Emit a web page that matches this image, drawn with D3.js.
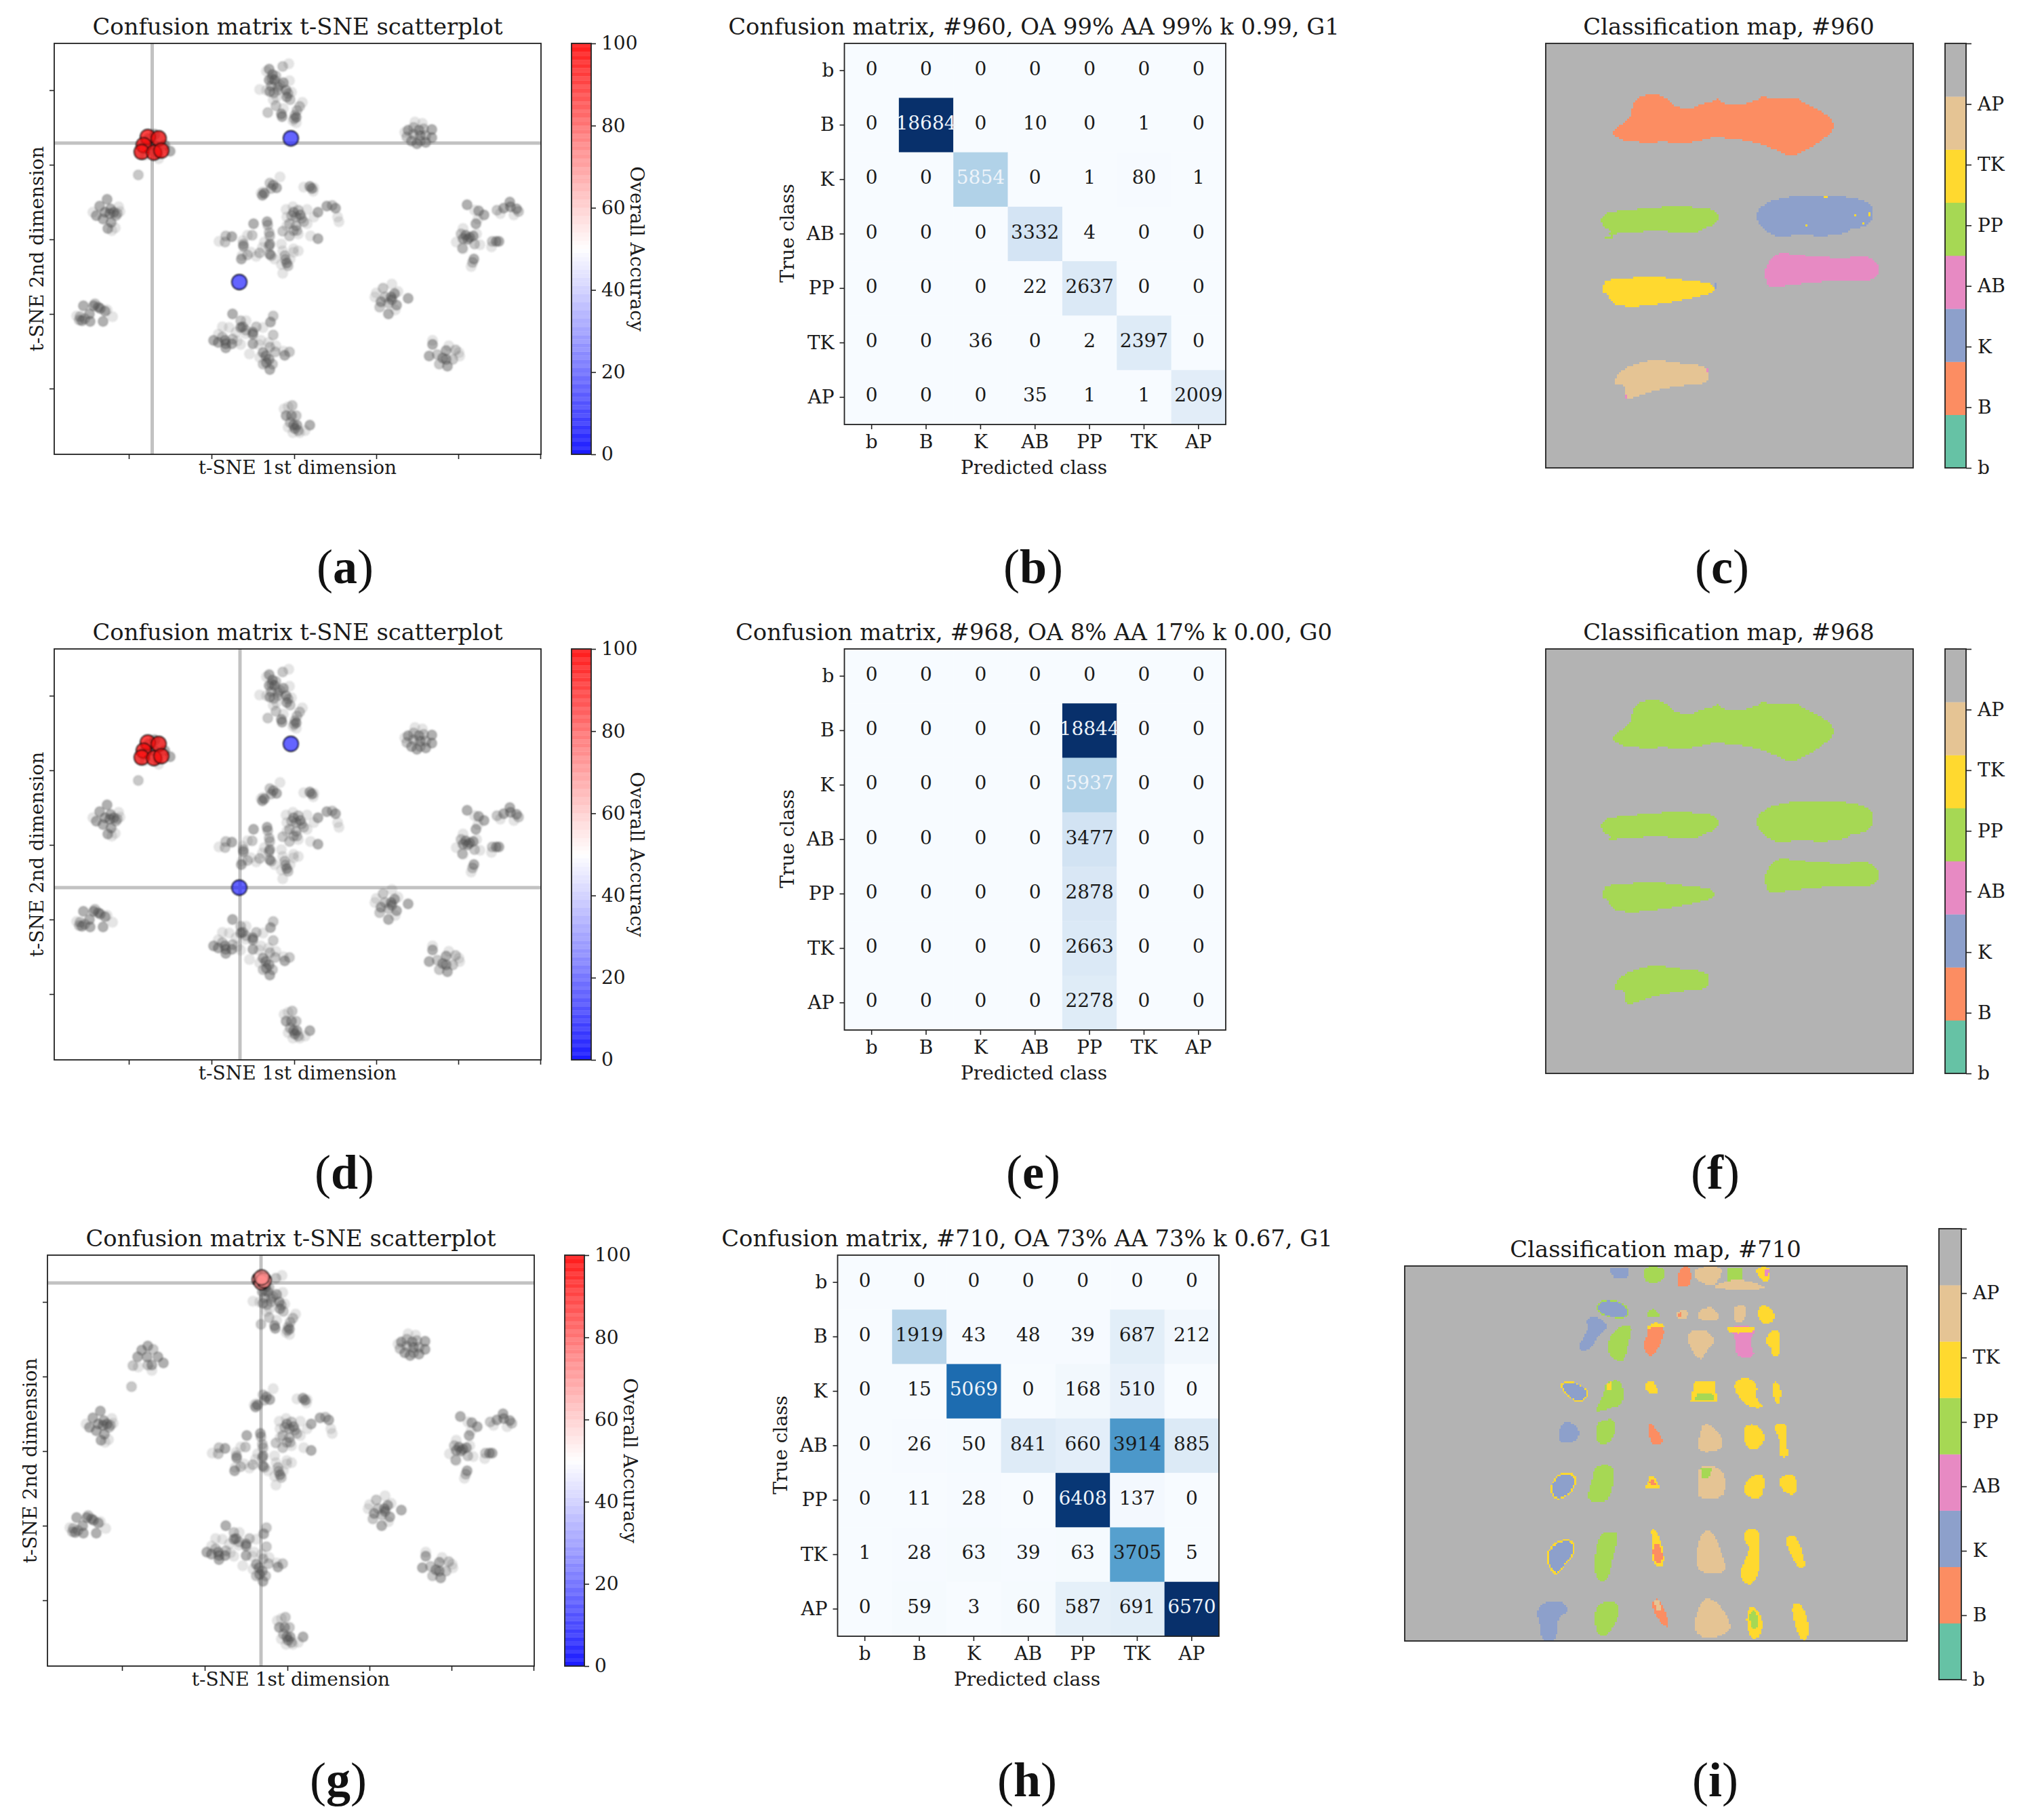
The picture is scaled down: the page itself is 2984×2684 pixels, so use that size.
<!DOCTYPE html>
<html><head><meta charset="utf-8">
<script src="https://d3js.org/d3.v7.min.js"></script>
<style>
html,body{margin:0;padding:0;background:#fff}
svg{display:block}
text{font-family:"DejaVu Serif",serif;fill:#1a1a1a}
</style></head><body>
<div id="chart"></div>
<script>
// ---------- data ----------
const classNames = ["b","B","K","AB","PP","TK","AP"];
const classColors = ["#66c2a5","#fc8d62","#8da0cb","#e78ac3","#a6d854","#ffd92f","#e5c494","#b3b3b3"];

const matrix960 = [
 [0,0,0,0,0,0,0],
 [0,18684,0,10,0,1,0],
 [0,0,5854,0,1,80,1],
 [0,0,0,3332,4,0,0],
 [0,0,0,22,2637,0,0],
 [0,0,36,0,2,2397,0],
 [0,0,0,35,1,1,2009]];
const matrix968 = [
 [0,0,0,0,0,0,0],
 [0,0,0,0,18844,0,0],
 [0,0,0,0,5937,0,0],
 [0,0,0,0,3477,0,0],
 [0,0,0,0,2878,0,0],
 [0,0,0,0,2663,0,0],
 [0,0,0,0,2278,0,0]];
const matrix710 = [
 [0,0,0,0,0,0,0],
 [0,1919,43,48,39,687,212],
 [0,15,5069,0,168,510,0],
 [0,26,50,841,660,3914,885],
 [0,11,28,0,6408,137,0],
 [1,28,63,39,63,3705,5],
 [0,59,3,60,587,691,6570]];

// t-SNE readings: [dim1, dim2, alpha level], dim2 grows downward
const tsneTop = [[397,102,3],[393,105,1],[402,110,3],[407,112,2],[397,118,3],[405,118,3],[418,122,3],[427,119,1],[400,127,2],[410,128,2],[383,132,1],[393,133,1],[398,135,3],[410,133,2],[422,133,3],[430,136,1],[403,147,1],[408,143,1],[423,143,3],[428,147,2],[407,156,2],[418,160,1],[395,166,2],[415,168,3],[416,172,3],[417,98,2],[426,94,1],[446,151,1],[442,157,2],[438,163,2],[435,170,2],[437,173,3],[432,178,1],[437,181,1],[434,175,2],[401,116,2],[413,125,2],[404,137,2],[425,138,2]];
const tsneLeft = [[158,294,3],[147,304,3],[137,313,1],[142,318,3],[152,323,3],[155,313,3],[163,308,3],[168,313,3],[162,315,3],[175,305,1],[173,315,2],[177,312,1],[164,328,3],[159,337,3],[170,336,1],[165,340,1],[171,318,2],
 [123,451,3],[138,451,3],[145,453,3],[148,455,3],[155,459,3],[158,457,1],[132,463,3],[113,466,1],[118,467,2],[166,467,1],[121,473,3],[133,474,3],[152,474,3],[125,470,2],[117,472,2],[140,448,2]];
const tsneCluster = [[228,198,3],[219,204,3],[236,203,2],[213,214,3],[227,214,3],[243,214,3],[251,223,3],[234,226,3],[206,227,2],[214,229,1],[228,226,2],[234,234,1],[204,258,2]];
const tsneCentre = [[413,261,1],[398,270,2],[403,273,3],[408,277,3],[400,278,2],[388,283,1],[387,288,3],[390,285,3],[385,285,1],[448,276,1],[457,275,3],[460,278,3],[463,277,1],[462,282,1],
 [422,309,1],[432,305,1],[433,313,3],[440,310,2],[443,317,3],[437,320,2],[423,320,1],[427,330,2],[448,327,2],[453,330,1],[453,309,1],[463,320,1],[469,313,3],[482,304,3],[495,307,3],[490,303,2],[498,320,1],[500,327,1],[458,348,1],[469,352,3],[433,340,2],[417,341,2],[427,348,2],[440,345,1],[423,333,1],[437,333,2],
 [374,330,3],[394,327,3],[395,332,2],[397,343,2],[398,348,2],[372,347,2],[365,347,1],[333,348,2],[342,349,3],[323,356,1],[332,357,2],[358,355,1],[359,363,3],[359,360,2],[398,360,3],[397,363,2],[390,357,1],[387,365,1],[383,373,2],[378,378,1],[370,372,1],[365,376,2],[356,382,3],[398,375,3],[400,377,2],[405,382,1],[415,360,1],[417,370,1],[420,377,2],[423,388,3],[425,392,2],[415,390,1],[428,382,1],[433,367,1],[440,370,1],[433,372,1],[417,403,1],[357,377,1],[430,318,2],[438,340,2],[445,322,2],[421,383,2]];
const tsneBottom = [[343,463,3],[328,482,1],[338,483,1],[355,473,2],[363,473,1],[355,483,3],[358,482,3],[363,487,2],[378,482,2],[388,483,1],[373,490,3],[373,493,3],[362,492,1],[348,490,1],[322,493,1],[315,502,3],[322,505,3],[332,502,3],[333,507,3],[342,507,3],[333,513,3],[350,503,1],[355,508,1],[328,497,2],[343,500,2],[403,466,2],[399,475,3],[403,494,2],[373,507,3],[385,502,1],[382,508,1],[396,505,1],[407,510,1],[398,512,2],[368,522,1],[406,519,2],[418,518,1],[420,524,3],[427,519,2],[388,520,3],[392,525,3],[397,530,3],[388,537,2],[393,535,3],[398,545,3],[383,527,1],[402,537,2],
 [431,598,2],[419,603,1],[425,600,1],[422,613,3],[430,613,3],[437,613,2],[433,627,3],[438,627,3],[428,623,2],[457,627,3],[435,632,3],[425,630,1],[432,638,1],[442,638,1],[450,635,1],[440,635,2]];
const tsneRight = [[612,180,1],[623,182,1],[602,192,3],[597,195,1],[610,188,2],[618,192,3],[625,190,2],[637,191,3],[637,203,3],[600,202,2],[610,198,2],[620,200,3],[628,200,2],[607,208,3],[615,212,3],[628,210,3],[620,208,2],
 [689,302,3],[700,310,1],[706,311,3],[714,317,3],[702,330,3],[705,323,1],[733,310,2],[743,307,3],[752,298,3],[753,305,3],[762,308,3],[765,312,2],[758,317,1],[738,315,1],[683,337,1],[680,345,2],[687,347,3],[693,350,3],[698,348,3],[703,345,1],[690,353,3],[683,352,3],[673,357,1],[682,366,2],[683,367,1],[700,360,2],[708,361,1],[726,356,2],[732,356,3],[736,356,3],[725,364,1],[699,382,3],[697,387,2],[695,393,1],
 [578,419,1],[565,425,2],[555,432,1],[587,430,1],[582,433,3],[553,438,1],[577,438,3],[578,442,3],[602,440,3],[562,445,3],[560,453,2],[585,450,3],[583,457,1],[573,463,3],[573,447,2],[568,438,2],
 [638,502,1],[638,508,3],[633,525,3],[645,523,2],[648,537,2],[658,517,3],[662,510,1],[672,516,2],[658,530,3],[668,530,2],[678,525,1],[660,540,3],[653,528,3],[677,520,1]];

// highlighted solutions: [dim1, dim2, overall accuracy]
const hitsHighRow = [[218,202,99],[234,204,99],[212,214,99],[209,224,99],[227,225,99],[238,222,99],[429,204,8],[353,416,8]];
const hitsLowRow = [[393,100,73],[396,104,73],[399,101,73],[396,97,73]];

const xTicksTsne = [190,312,434,555,676,797];
const yTicksTsne = [133,243,353,463,573];
const accTicks = [0,20,40,60,80,100];

// classification map outlines, read in image units
const regions960 = [
 {c:1,p:[[357,340],[380,325],[400,310],[415,300],[420,275],[432,255],[455,245],[480,241],[505,247],[525,258],[550,278],[600,278],[625,265],[660,260],[670,252],[685,268],[720,272],[760,265],[790,255],[800,245],[820,255],[860,252],[895,250],[920,265],[955,280],[985,295],[1000,308],[1006,322],[1000,338],[975,355],[945,375],[905,392],[875,401],[855,390],[810,373],[760,360],[700,355],[665,350],[620,358],[570,368],[520,362],[460,365],[400,360],[375,352]]},
 {c:4,p:[[327,550],[380,540],[460,535],[525,530],[600,532],[650,537],[668,555],[660,572],[620,588],[595,600],[575,595],[540,598],[500,590],[460,592],[400,598],[375,598],[345,600],[355,590],[327,578]]},
 {c:2,p:[[785,545],[800,530],[830,515],[880,505],[960,502],[1050,505],[1100,515],[1125,535],[1123,565],[1100,582],[1060,585],[1040,600],[970,605],[900,600],[855,610],[815,592],[790,575]]},
 {c:3,p:[[810,695],[830,660],[860,648],[900,655],[960,660],[1040,665],[1075,660],[1120,662],[1145,690],[1130,715],[1100,722],[1040,718],[960,725],[880,732],[825,740],[812,720]]},
 {c:5,p:[[330,730],[350,718],[410,715],[480,712],[520,715],[580,722],[640,727],[655,740],[645,755],[590,765],[520,778],[430,788],[370,785],[350,770],[345,755],[328,752]]},
 {c:6,p:[[360,978],[395,945],[450,930],[490,925],[530,932],[630,940],[638,960],[635,985],[560,990],[480,1002],[440,1015],[400,1027],[395,1005],[395,990],[370,988]]},
 {c:5,p:[[925,573],[936,573],[936,581],[925,581]]},
 {c:5,p:[[979,503],[991,503],[991,510],[979,510]]},
 {c:5,p:[[1113,543],[1120,543],[1120,554],[1113,554]]},
 {c:5,p:[[1093,572],[1100,572],[1100,578],[1093,578]]},
 {c:5,p:[[1070,549],[1077,549],[1077,556],[1070,556]]},
 {c:4,p:[[335,608],[355,603],[357,610],[337,613]]},
 {c:2,p:[[655,730],[665,728],[664,740],[655,745]]},
 {c:3,p:[[634,948],[640,948],[640,958],[634,958]]},
 {c:3,p:[[393,1012],[399,1012],[399,1026],[393,1026]]}
];
const regions968 = [0,1,2,3,4,5].map(i=>({c:4,p:regions960[i].p}));

const regions710 = [
 {c:2,p:[[547,195],[590,195],[592,215],[580,228],[560,228],[550,210]]},
 {c:4,p:[[630,195],[675,195],[680,225],[665,240],[635,240]]},
 {c:1,p:[[722,195],[743,195],[745,250],[715,255],[714,235]]},
 {c:6,p:[[760,205],[775,195],[820,195],[815,225],[800,250],[775,240],[760,228]]},
 {c:4,p:[[838,195],[875,195],[875,235],[838,238]]},
 {c:6,p:[[805,262],[825,245],[860,235],[900,243],[932,265]]},
 {c:5,p:[[915,195],[942,195],[940,235],[925,235],[910,210]]},
 {c:3,p:[[930,200],[940,200],[938,225],[930,225]]},
 {c:2,r:4,p:[[520,320],[535,303],[565,308],[585,325],[583,350],[550,350],[525,338]]},
 {c:4,p:[[638,340],[652,327],[665,340],[665,353],[640,353]]},
 {c:6,p:[[708,345],[725,330],[738,335],[735,355],[720,360]]},
 {c:1,p:[[712,342],[722,338],[722,352],[714,355]]},
 {c:6,p:[[765,335],[795,322],[810,340],[812,363],[770,363]]},
 {c:6,p:[[853,320],[880,318],[882,350],[870,368],[855,365]]},
 {c:5,p:[[915,325],[930,317],[950,335],[950,370],[917,370]]},
 {c:2,p:[[487,365],[510,355],[540,385],[510,420],[500,450],[475,455],[472,440],[495,395]]},
 {c:4,p:[[545,425],[570,390],[598,385],[590,430],[580,490],[560,485],[545,465]]},
 {c:5,p:[[640,385],[655,372],[676,376],[676,392],[640,392]]},
 {c:1,p:[[640,392],[676,388],[675,420],[655,470],[640,470],[630,440],[640,420]]},
 {c:6,p:[[738,415],[760,398],[785,402],[803,435],[780,460],[775,485],[755,470]]},
 {c:3,p:[[840,390],[895,385],[900,410],[888,435],[903,470],[880,478],[860,470],[860,420]]},
 {c:5,p:[[840,385],[900,385],[900,400],[860,405],[840,398]]},
 {c:5,p:[[935,420],[950,398],[968,410],[962,440],[968,472],[945,472],[947,448],[935,440]]},
 {c:2,r:5,p:[[432,570],[455,565],[480,585],[487,600],[472,620],[455,615],[432,585]]},
 {c:4,p:[[510,655],[535,600],[535,570],[572,558],[578,630],[545,642]]},
 {c:5,p:[[538,565],[552,560],[552,585],[538,590]]},
 {c:5,p:[[635,570],[650,555],[665,595],[650,600],[635,585]]},
 {c:5,p:[[755,562],[805,560],[812,628],[745,625]]},
 {c:4,p:[[760,600],[800,600],[805,622],[755,622]]},
 {c:5,p:[[858,565],[880,553],[908,565],[905,620],[920,630],[915,640],[885,635],[860,595]]},
 {c:5,p:[[948,575],[958,562],[970,590],[965,628],[955,625]]},
 {c:2,p:[[425,700],[450,693],[468,720],[462,745],[440,755],[420,750]]},
 {c:4,p:[[520,690],[560,685],[550,750],[520,760],[512,725]]},
 {c:1,p:[[642,700],[650,700],[675,745],[670,760],[648,760]]},
 {c:6,p:[[778,705],[795,703],[823,745],[815,780],[765,782],[772,725]]},
 {c:5,p:[[880,705],[910,703],[930,740],[905,780],[880,760]]},
 {c:5,p:[[950,705],[985,700],[982,760],[987,795],[965,795],[968,745]]},
 {c:2,r:5,p:[[402,900],[420,865],[445,860],[457,880],[445,915],[415,935]]},
 {c:4,p:[[510,840],[540,835],[553,850],[545,935],[510,943],[492,930],[505,880]]},
 {c:5,p:[[636,898],[650,855],[665,895],[665,903],[637,903]]},
 {c:1,p:[[644,885],[652,872],[660,890],[646,892]]},
 {c:6,p:[[767,840],[800,835],[828,860],[825,930],[770,932],[767,900]]},
 {c:4,p:[[770,840],[800,838],[790,870],[775,870]]},
 {c:5,p:[[880,900],[895,870],[920,860],[927,885],[918,935],[885,925]]},
 {c:5,p:[[968,870],[1000,857],[1010,910],[990,923],[968,895]]},
 {c:2,r:5,p:[[392,1125],[410,1085],[445,1075],[453,1110],[430,1145],[412,1175]]},
 {c:4,p:[[510,1130],[522,1055],[555,1050],[562,1065],[550,1130],[540,1190],[515,1190]]},
 {c:5,p:[[648,1040],[665,1050],[680,1130],[668,1155],[650,1130],[655,1080]]},
 {c:1,p:[[655,1085],[668,1085],[676,1130],[664,1145],[654,1125]]},
 {c:6,p:[[760,1135],[775,1050],[800,1050],[815,1100],[832,1165],[790,1172],[770,1160]]},
 {c:5,p:[[880,1050],[912,1040],[915,1100],[915,1160],[900,1200],[880,1200],[870,1165],[895,1100],[880,1080]]},
 {c:5,p:[[982,1065],[1005,1058],[1022,1110],[1027,1155],[1010,1150],[990,1100]]},
 {c:2,p:[[367,1305],[385,1273],[425,1273],[440,1300],[412,1320],[412,1390],[380,1390],[375,1330]]},
 {c:4,p:[[510,1290],[545,1268],[568,1290],[555,1340],[535,1375],[515,1365]]},
 {c:1,p:[[655,1265],[670,1265],[692,1335],[680,1345],[655,1300]]},
 {c:6,p:[[655,1265],[668,1265],[672,1295],[660,1295]]},
 {c:6,p:[[760,1330],[775,1270],[800,1265],[830,1310],[842,1358],[790,1382],[760,1360]]},
 {c:5,p:[[885,1300],[905,1285],[925,1340],[910,1385],[890,1370]]},
 {c:4,p:[[893,1305],[905,1298],[915,1335],[903,1355],[895,1340]]},
 {c:5,p:[[995,1285],[1020,1278],[1037,1340],[1033,1385],[1015,1380]]}
];

// ---------- layout ----------
const W = 2984, H = 2684;
const svg = d3.select("#chart").append("svg").attr("width",W).attr("height",H).attr("viewBox",[0,0,W,H]);
const defs = svg.append("defs");
defs.append("filter").attr("id","soft").attr("x","-5%").attr("y","-5%").attr("width","110%").attr("height","110%")
  .append("feGaussianBlur").attr("stdDeviation",1.1);

const FS_TITLE=33.8, FS=28;
const bwr = d3.scaleLinear().domain([0,50,100]).range(["#0000ff","#ffffff","#ff0000"]);
const greyPoints = [].concat(tsneCluster,tsneTop,tsneLeft,tsneCentre,tsneBottom,tsneRight);
const levelAlpha = {1:0.15,2:0.32,3:0.46};

function label(g,txt,x,y,size,o={}){
  const t=g.append("text").text(txt).attr("font-size",size).attr("text-anchor",o.anchor||"middle").attr("dominant-baseline","central");
  if(o.rot!==undefined) t.attr("transform",`translate(${x},${y}) rotate(${o.rot})`);
  else t.attr("x",x).attr("y",y);
  return t;
}
function styleAxis(a){
  a.select(".domain").remove();
  a.selectAll("line").attr("stroke","#222").attr("stroke-width",1.6);
  a.selectAll("text").attr("font-size",FS).attr("font-family","DejaVu Serif").style("fill","#1a1a1a");
}
function frame(g,x,y,w,h){
  g.append("rect").attr("x",x).attr("y",y).attr("width",w).attr("height",h)
   .attr("fill","none").attr("stroke","#222").attr("stroke-width",1.8);
}

function scatterPanel(dx,dy,hits,cross){
  const g=svg.append("g");
  const x=d3.scaleLinear().domain([80,798]).range([80+dx,798+dx]);
  const y=d3.scaleLinear().domain([64,670]).range([64+dy,670+dy]);
  const [L,R]=x.range(),[T,B]=y.range();
  label(g,"Confusion matrix t-SNE scatterplot",439+dx,39+dy,FS_TITLE);
  g.append("line").attr("x1",x(cross[0])).attr("x2",x(cross[0])).attr("y1",T).attr("y2",B).attr("stroke","#c2c2c2").attr("stroke-width",5);
  g.append("line").attr("x1",L).attr("x2",R).attr("y1",y(cross[1])).attr("y2",y(cross[1])).attr("stroke","#c2c2c2").attr("stroke-width",5);
  const pts=g.append("g").attr("filter","url(#soft)");
  pts.selectAll("circle.p").data(greyPoints).join("circle").attr("class","p")
    .attr("cx",d=>x(d[0])).attr("cy",d=>y(d[1])).attr("r",7.3)
    .attr("fill","#505050").attr("fill-opacity",d=>levelAlpha[d[2]])
    .attr("stroke","#333").attr("stroke-opacity",d=>levelAlpha[d[2]]*0.6).attr("stroke-width",1.2);
  pts.selectAll("circle.h").data(hits).join("circle").attr("class","h")
    .attr("cx",d=>x(d[0])).attr("cy",d=>y(d[1])).attr("r",11)
    .attr("fill",d=>bwr(d[2])).attr("fill-opacity",0.72)
    .attr("stroke","#111").attr("stroke-width",1.8);
  frame(g,L,T,R-L,B-T);
  const ax=g.append("g").attr("transform",`translate(0,${B})`).call(d3.axisBottom(x).tickValues(xTicksTsne).tickFormat("").tickSize(7));
  styleAxis(ax);
  const ay=g.append("g").attr("transform",`translate(${L},0)`).call(d3.axisLeft(y).tickValues(yTicksTsne).tickFormat("").tickSize(7));
  styleAxis(ay);
  label(g,"t-SNE 1st dimension",439+dx,689+dy,FS);
  label(g,"t-SNE 2nd dimension",54+dx,367+dy,FS,{rot:-90});
  // colour bar
  const c=d3.scaleLinear().domain([0,100]).range([670+dy,64+dy]);
  const cx0=843+dx, cw=29;
  const steps=d3.range(0,100,1);
  g.append("g").selectAll("rect").data(steps).join("rect")
    .attr("x",cx0).attr("width",cw).attr("y",d=>c(d+1)).attr("height",d=>c(d)-c(d+1)+0.2)
    .attr("fill",d=>bwr(d+0.5)).attr("fill-opacity",d=>d%2?0.82:0.9);
  frame(g,cx0,64+dy,cw,606);
  const ac=g.append("g").attr("transform",`translate(${cx0+cw},0)`).call(d3.axisRight(c).tickValues(accTicks).tickSize(7).tickPadding(8));
  styleAxis(ac);
  label(g,"Overall Accuracy",939+dx,367+dy,FS,{rot:90});
}

function matrixPanel(dx,dy,m,title){
  const g=svg.append("g");
  const x=d3.scaleBand().domain(classNames).range([1245.5+dx,1808+dx]);
  const y=d3.scaleBand().domain(classNames).range([64+dy,626+dy]);
  const mx=d3.max(m.flat());
  const col=d3.scaleSequential(d3.interpolateBlues).domain([0,mx]);
  const cells=m.flatMap((r,i)=>r.map((v,j)=>({v,row:classNames[i],col:classNames[j]})));
  g.selectAll("rect").data(cells).join("rect")
    .attr("x",d=>x(d.col)).attr("y",d=>y(d.row)).attr("width",x.bandwidth()+0.3).attr("height",y.bandwidth()+0.3)
    .attr("fill",d=>col(d.v));
  g.selectAll("text.cell").data(cells).join("text").attr("class","cell")
    .attr("x",d=>x(d.col)+x.bandwidth()/2).attr("y",d=>y(d.row)+y.bandwidth()/2-3)
    .attr("text-anchor","middle").attr("dominant-baseline","central").attr("font-size",FS)
    .text(d=>d.v).style("fill",d=>d.v>5000?"#eef4fa":"#1a1a1a");
  frame(g,1245.5+dx,64+dy,562.5,562);
  styleAxis(g.append("g").attr("transform",`translate(0,${626+dy})`).call(d3.axisBottom(x).tickSize(7).tickPadding(8)));
  styleAxis(g.append("g").attr("transform",`translate(${1245.5+dx},0)`).call(d3.axisLeft(y).tickSize(7).tickPadding(8)));
  label(g,title,1525+dx,39+dy,FS_TITLE);
  label(g,"Predicted class",1525+dx,689+dy,FS);
  label(g,"True class",1161+dx,344+dy,FS,{rot:-90});
}

// rounds the outline of a region (corner cutting)
function rounded(p,n){
  let q=p;
  for(let k=0;k<n;k++){
    q=q.flatMap((a,i)=>{const b=q[(i+1)%q.length];
      return [[a[0]*.75+b[0]*.25,a[1]*.75+b[1]*.25],[a[0]*.25+b[0]*.75,a[1]*.25+b[1]*.75]];});
  }
  return q;
}

function mapPanel(box,bar,regions,dom,nx,ny,title,tx,ty,grow){
  const g=svg.append("g");
  const x=d3.scaleLinear().domain(dom[0]).range([box[0],box[0]+box[2]]);
  const y=d3.scaleLinear().domain(dom[1]).range([box[1],box[1]+box[3]]);
  const grid=new Int8Array(nx*ny).fill(7);
  const gx=i=>dom[0][0]+(i+0.5)/nx*(dom[0][1]-dom[0][0]);
  const gy=j=>dom[1][0]+(j+0.5)/ny*(dom[1][1]-dom[1][0]);
  const fill=(p,c)=>{
    const xs=p.map(d=>d[0]),ys=p.map(d=>d[1]);
    const i0=Math.max(0,Math.floor((d3.min(xs)-dom[0][0])/(dom[0][1]-dom[0][0])*nx)-1),
          i1=Math.min(nx-1,Math.ceil((d3.max(xs)-dom[0][0])/(dom[0][1]-dom[0][0])*nx)+1),
          j0=Math.max(0,Math.floor((d3.min(ys)-dom[1][0])/(dom[1][1]-dom[1][0])*ny)-1),
          j1=Math.min(ny-1,Math.ceil((d3.max(ys)-dom[1][0])/(dom[1][1]-dom[1][0])*ny)+1);
    for(let j=j0;j<=j1;j++)for(let i=i0;i<=i1;i++) if(d3.polygonContains(p,[gx(i),gy(j)])) grid[j*nx+i]=c;
  };
  const scaled=(p,k)=>{const ct=d3.polygonCentroid(p);return p.map(d=>[ct[0]+(d[0]-ct[0])*k,ct[1]+(d[1]-ct[1])*k]);};
  regions.forEach(r=>{
    const shape=r.p.length>=5?rounded(scaled(r.p,grow),2):r.p;
    if(r.r!==undefined) fill(scaled(shape,1.13),r.r);
    fill(shape,r.c);
  });
  const runs=[];
  for(let j=0;j<ny;j++){let i=0;while(i<nx){const c=grid[j*nx+i];let k=i;while(k+1<nx&&grid[j*nx+k+1]===c)k++;
    if(c!==7)runs.push({i,k,j,c});i=k+1;}}
  g.append("rect").attr("x",box[0]).attr("y",box[1]).attr("width",box[2]).attr("height",box[3]).attr("fill",classColors[7]);
  const du=(dom[0][1]-dom[0][0])/nx,dv=(dom[1][1]-dom[1][0])/ny;
  g.append("g").attr("shape-rendering","crispEdges").selectAll("rect").data(runs).join("rect")
    .attr("x",d=>x(dom[0][0]+d.i*du)).attr("width",d=>x(dom[0][0]+(d.k+1)*du)-x(dom[0][0]+d.i*du))
    .attr("y",d=>y(dom[1][0]+d.j*dv)).attr("height",d=>y(dom[1][0]+(d.j+1)*dv)-y(dom[1][0]+d.j*dv))
    .attr("fill",d=>classColors[d.c]);
  frame(g,box[0],box[1],box[2],box[3]);
  label(g,title,tx,ty,FS_TITLE);
  // discrete colour bar
  const c=d3.scaleLinear().domain([0,7]).range([bar[1]+bar[3],bar[1]]);
  const band=d3.scaleLinear().domain([0,8]).range([bar[1]+bar[3],bar[1]]);
  g.append("g").selectAll("rect").data(classColors).join("rect")
    .attr("x",bar[0]).attr("width",bar[2]).attr("y",(d,i)=>band(i+1)).attr("height",(d,i)=>band(i)-band(i+1)+0.3).attr("fill",d=>d);
  frame(g,bar[0],bar[1],bar[2],bar[3]);
  styleAxis(g.append("g").attr("transform",`translate(${bar[0]+bar[2]},0)`)
    .call(d3.axisRight(c).tickValues(d3.range(0,8)).tickFormat(i=>classNames[i]||"").tickSize(8).tickPadding(9)));
}

function caption(letter,x,y){
  const t=svg.append("text").attr("x",x).attr("y",y).attr("text-anchor","middle").attr("dominant-baseline","central")
    .attr("font-size",72).style("font-family","'Liberation Serif',serif").style("fill","#111");
  t.append("tspan").text("(");
  t.append("tspan").text(letter).style("font-weight","700");
  t.append("tspan").text(")");
}

const cross960=[224.5,211], cross968=[354,416], cross710=[395,105];
const domC=[[159,1245],[111,1202]], domI=[[37,1282],[190,1393]];

scatterPanel(0,0,hitsHighRow,cross960);
scatterPanel(0,893,hitsHighRow,cross968);
scatterPanel(-10,1787,hitsLowRow,cross710);
matrixPanel(0,0,matrix960,"Confusion matrix, #960, OA 99% AA 99% k 0.99, G1");
matrixPanel(0,893,matrix968,"Confusion matrix, #968, OA 8% AA 17% k 0.00, G0");
matrixPanel(-10,1787,matrix710,"Confusion matrix, #710, OA 73% AA 73% k 0.67, G1");
mapPanel([2280,64,542,626],[2869,64,31,626],regions960,domC,181,209,"Classification map, #960",2550,39,1.02);
mapPanel([2280,957,542,626],[2869,957,31,626],regions968,domC,181,209,"Classification map, #968",2550,932,1.02);
mapPanel([2072,1867,741,553],[2860,1812,33,665],regions710,domI,296,221,"Classification map, #710",2442,1842,1.15);

[["a",509,836],["b",1524,836],["c",2540,836],
 ["d",508,1729],["e",1524,1729],["f",2530,1729],
 ["g",499,2625],["h",1515,2625],["i",2530,2625]].forEach(c=>caption(...c));
</script>
</body></html>
